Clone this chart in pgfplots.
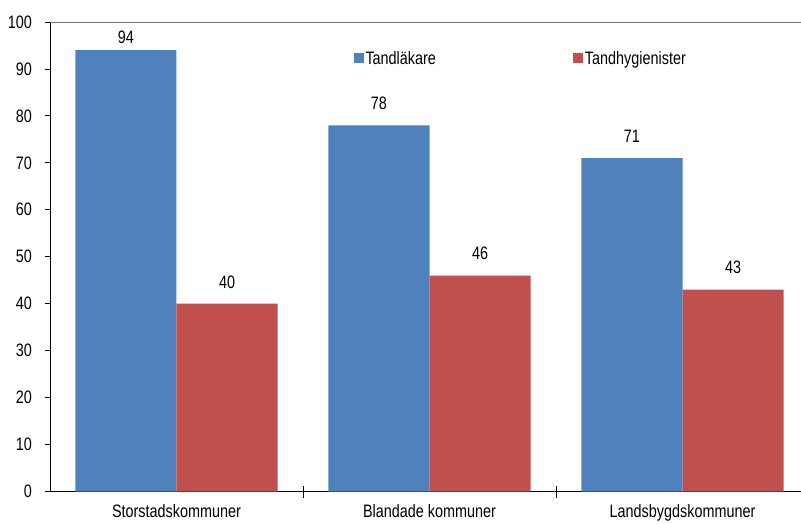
\documentclass[border=0pt]{standalone}
\usepackage{fontspec}
\setmainfont{Liberation Sans}[FakeStretch=0.8]
\usepackage{pgfplots}
\usepackage{pgfplotstable}
\pgfplotsset{compat=1.18}
\definecolor{exblue}{HTML}{4F81BD}
\definecolor{exred}{HTML}{C0504D}
\pgfplotstableread{
x y
0 94
1 78
2 71
}\tandl
\pgfplotstableread{
x y
0 40
1 46
2 43
}\tandh
\begin{document}
\begin{tikzpicture}[font=\fontsize{18bp}{21bp}\selectfont]
\begin{axis}[
  scale only axis,
  width=751bp, height=469.5bp,
  xmin=-0.5, xmax=2.4684,
  ymin=0, ymax=100,
  axis x line*=bottom, axis y line*=left,
  axis line style={black, line width=0.8bp},
  ybar=0pt, bar width=101.2bp,
  xtick={0,1,2},
  xticklabels={Storstadskommuner,Blandade kommuner,Landsbygdskommuner},
  major x tick style={draw=none},
  minor xtick={0.5,1.5},
  minor x tick style={black, line width=0.8bp},
  minor tick length=12bp,
  xtick align=center,
  xticklabel style={anchor=base, inner sep=0pt, yshift=-23bp},
  ytick={0,10,...,100},
  ytick align=outside,
  major tick length=5bp,
  major y tick style={black, line width=0.8bp},
  yticklabel style={anchor=east, inner sep=0pt, xshift=-13bp},
  /pgf/number format/assume math mode=true,
  extra y ticks={100},
  extra y tick labels={},
  extra y tick style={ymajorgrids=true, major tick length=0pt,
    major grid style={gray!90!black, line width=0.8bp}},
  clip=false,
  nodes near coords,
  every node near coord/.append style={anchor=south, inner sep=0pt, outer sep=0pt, yshift=15.5bp, black},
  coordinate style/.condition={y>90}{yshift=-9.5bp},
  legend columns=2,
  legend style={draw=none, fill=none, inner sep=0pt, outer sep=0pt,
    at={(0.4048,0.9223)}, anchor=west,
    nodes={inner sep=1.5bp},
    /tikz/every even column/.append style={column sep=136bp}},
  legend image code/.code={\fill[#1] (0bp,-5bp) rectangle (10bp,5bp);},
]
\addplot[fill=exblue, draw=none] table[x=x, y=y] {\tandl};
\addlegendentry{Tandläkare}
\addplot[fill=exred, draw=none] table[x=x, y=y] {\tandh};
\addlegendentry{Tandhygienister}
\coordinate (bl) at (axis cs:-0.6976,-6.709);
\coordinate (tr) at (axis cs:2.4684,104.686);
\end{axis}
\pgfresetboundingbox
\useasboundingbox (bl) rectangle (tr);
\end{tikzpicture}
\end{document}
